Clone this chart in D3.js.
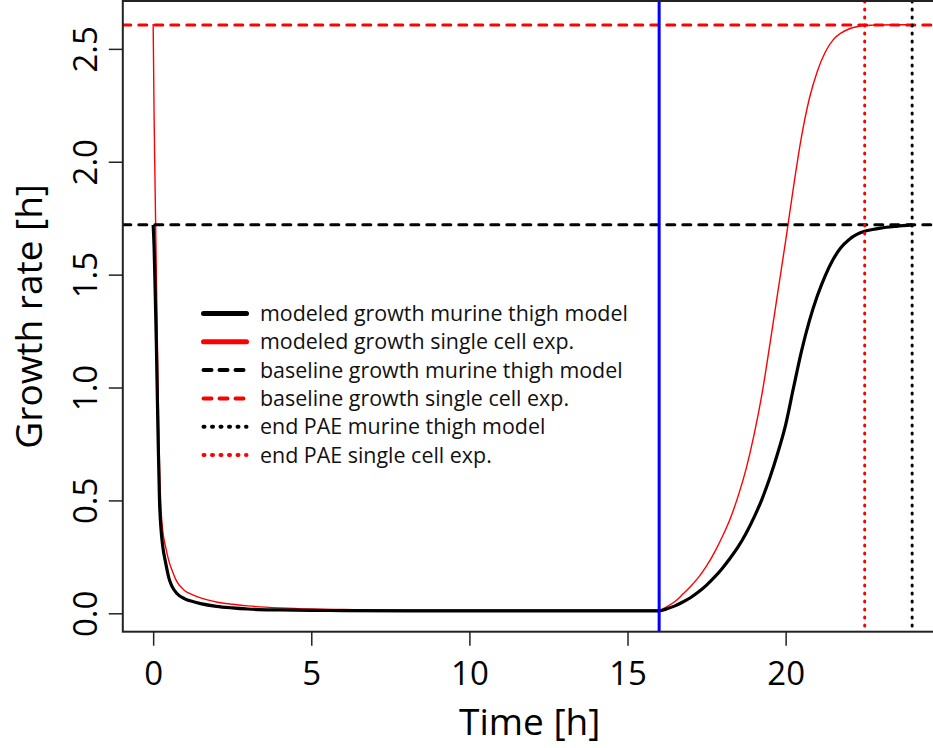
<!DOCTYPE html>
<html>
<head>
<meta charset="utf-8">
<script src="https://cdn.jsdelivr.net/npm/d3@7"></script>
<style>
  body { margin: 0; background: #fff; }
  svg { display: block; font-family: "Open Sans", "DejaVu Sans", sans-serif; }
</style>
</head>
<body>
<script>
// time grid [h] shared by both modeled curves
var timeH = [0, 0.03, 0.06, 0.1, 0.15, 0.2, 0.25, 0.3, 0.4, 0.5, 0.6, 0.75, 1, 1.25, 1.5, 2, 2.5, 3, 4, 5, 6, 8, 10, 12, 14, 16,
  16.25, 16.5, 16.75, 17, 17.25, 17.5, 17.75, 18, 18.25, 18.5, 18.75, 19, 19.25, 19.5, 19.75, 20,
  20.25, 20.5, 20.75, 21, 21.25, 21.5, 21.75, 22, 22.25, 22.5, 22.75, 23, 23.5, 24];

// modeled growth, murine thigh model (black thick)
var growthMurine = [1.72, 1.62, 1.45, 1.2, 0.82, 0.5, 0.37, 0.3, 0.22, 0.155, 0.118, 0.088, 0.064, 0.052, 0.043, 0.031, 0.024, 0.019, 0.015, 0.013, 0.012, 0.011, 0.011, 0.011, 0.011, 0.011,
  0.02, 0.033, 0.05, 0.07, 0.095, 0.125, 0.16, 0.2, 0.245, 0.295, 0.355, 0.425, 0.505, 0.6, 0.71, 0.835,
  1.0, 1.16, 1.295, 1.405, 1.495, 1.567, 1.62, 1.655, 1.678, 1.692, 1.70, 1.706, 1.714, 1.72];

// modeled growth, single cell experiment (red thin)
var growthSingle = [2.61, 2.2, 1.9, 1.52, 1.05, 0.66, 0.46, 0.37, 0.29, 0.23, 0.19, 0.14, 0.1, 0.082, 0.068, 0.05, 0.04, 0.033, 0.024, 0.019, 0.017, 0.015, 0.015, 0.015, 0.015, 0.015,
  0.03, 0.052, 0.085, 0.12, 0.16, 0.21, 0.27, 0.34, 0.42, 0.52, 0.64, 0.79, 0.97, 1.19, 1.42, 1.65,
  1.89, 2.11, 2.28, 2.40, 2.485, 2.54, 2.57, 2.588, 2.598, 2.603, 2.605, 2.606, 2.607, 2.607];

// reference lines
var baselineMurine = 1.721;
var baselineSingle = 2.606;
var endPaeMurine = 24;
var endPaeSingle = 22.5;
var treatmentEnd = 16;

var xTicks = [0, 5, 10, 15, 20];
var yTicks = [0, 0.5, 1.0, 1.5, 2.0, 2.5];

var legendLabels = ["modeled growth murine thigh model", "modeled growth single cell exp.",
  "baseline growth murine thigh model", "baseline growth single cell exp.",
  "end PAE murine thigh model", "end PAE single cell exp."];

var W = 933, H = 748;
var box = {left: 122.8, right: 942.5, top: 1, bottom: 631.7};

var x = d3.scaleLinear().domain([-0.96, 24.96]).range([box.left, box.right]);
var y = d3.scaleLinear().domain([-0.0815, 2.712]).range([box.bottom, box.top]);

var svg = d3.select("body").append("svg")
  .attr("width", W)
  .attr("height", H);

svg.append("defs").append("clipPath").attr("id", "plotclip")
  .append("rect")
  .attr("x", box.left).attr("y", box.top)
  .attr("width", box.right - box.left).attr("height", box.bottom - box.top);

var plot = svg.append("g").attr("clip-path", "url(#plotclip)");

var line = d3.line()
  .x(function(d) { return x(d[0]); })
  .y(function(d) { return y(d[1]); })
  .curve(d3.curveMonotoneX);

// modeled curves
plot.append("path")
  .datum(timeH.map(function(t, i) { return [t, growthSingle[i]]; }))
  .attr("d", line)
  .attr("fill", "none").attr("stroke", "#ff0000").attr("stroke-width", 1.4);

plot.append("path")
  .datum(timeH.map(function(t, i) { return [t, growthMurine[i]]; }))
  .attr("d", line)
  .attr("fill", "none").attr("stroke", "#000").attr("stroke-width", 3.2);

// baselines (dashed)
[[baselineMurine, "#000"], [baselineSingle, "#ff0000"]].forEach(function(b) {
  plot.append("line")
    .attr("x1", box.left).attr("x2", box.right)
    .attr("y1", y(b[0])).attr("y2", y(b[0]))
    .attr("stroke", b[1]).attr("stroke-width", 3)
    .attr("stroke-dasharray", "8 8").attr("stroke-linecap", "round");
});

// end of PAE (dotted)
[[endPaeSingle, "#ff0000"], [endPaeMurine, "#000"]].forEach(function(e) {
  plot.append("line")
    .attr("x1", x(e[0])).attr("x2", x(e[0]))
    .attr("y1", box.top).attr("y2", box.bottom)
    .attr("stroke", e[1]).attr("stroke-width", 3)
    .attr("stroke-dasharray", "1 7").attr("stroke-linecap", "round");
});

// end of treatment
plot.append("line")
  .attr("x1", x(treatmentEnd)).attr("x2", x(treatmentEnd))
  .attr("y1", box.top).attr("y2", box.bottom)
  .attr("stroke", "#0000ff").attr("stroke-width", 3);

// axes
var xAxis = svg.append("g")
  .attr("transform", "translate(0," + box.bottom + ")")
  .call(d3.axisBottom(x).tickValues(xTicks).tickSize(14).tickFormat(d3.format("d")));
xAxis.select(".domain").remove();
xAxis.selectAll(".tick line").attr("stroke", "#222").attr("stroke-width", 1.5);
xAxis.selectAll(".tick text")
  .attr("y", 53).attr("dy", 0)
  .attr("font-size", 33).attr("fill", "#000")
  .attr("font-family", "'Open Sans', sans-serif");

var yAxis = svg.append("g")
  .attr("transform", "translate(" + box.left + ",0)")
  .call(d3.axisLeft(y).tickValues(yTicks).tickSize(14).tickFormat(d3.format(".1f")));
yAxis.select(".domain").remove();
yAxis.selectAll(".tick line").attr("stroke", "#222").attr("stroke-width", 1.5);
yAxis.selectAll(".tick text")
  .attr("x", 0).attr("y", -26).attr("dy", 0)
  .attr("transform", "rotate(-90)")
  .attr("text-anchor", "middle")
  .attr("font-size", 33).attr("fill", "#000")
  .attr("font-family", "'Open Sans', sans-serif");

// plot frame
svg.append("rect")
  .attr("x", box.left).attr("y", box.top)
  .attr("width", box.right - box.left).attr("height", box.bottom - box.top)
  .attr("fill", "none").attr("stroke", "#222").attr("stroke-width", 2);

// axis titles
svg.append("text")
  .attr("x", (box.left + box.right) / 2 - 3).attr("y", 735)
  .attr("text-anchor", "middle").attr("font-size", 37)
  .text("Time [h]");

svg.append("text")
  .attr("transform", "translate(42," + ((box.top + box.bottom) / 2) + ") rotate(-90)")
  .attr("text-anchor", "middle").attr("font-size", 37)
  .text("Growth rate [h]");

// legend
var legendStyles = [
  {color: "#000", dash: null, width: 5},
  {color: "#ff0000", dash: null, width: 5},
  {color: "#000", dash: "8 8", width: 4},
  {color: "#ff0000", dash: "8 8", width: 4},
  {color: "#000", dash: "1 7.5", width: 4},
  {color: "#ff0000", dash: "1 7.5", width: 4}
];

var legend = svg.append("g").attr("transform", "translate(0,313.5)");
var rows = legend.selectAll("g")
  .data(legendLabels)
  .enter().append("g")
  .attr("transform", function(d, i) { return "translate(0," + (i * 28.3) + ")"; });

rows.append("line")
  .attr("x1", 203.5).attr("x2", 246.5)
  .attr("stroke", function(d, i) { return legendStyles[i].color; })
  .attr("stroke-width", function(d, i) { return legendStyles[i].width; })
  .attr("stroke-dasharray", function(d, i) { return legendStyles[i].dash; })
  .attr("stroke-linecap", "round");

var labels = rows.append("text")
  .attr("x", 260).attr("dy", "0.35em")
  .attr("font-size", 20)
  .attr("fill", "#111")
  .text(function(d) { return d; });

// fit legend font so the longest label matches the reference width
var w0 = labels.nodes()[0].getComputedTextLength();
labels.attr("font-size", 20 * 368 / w0);
</script>
</body>
</html>
